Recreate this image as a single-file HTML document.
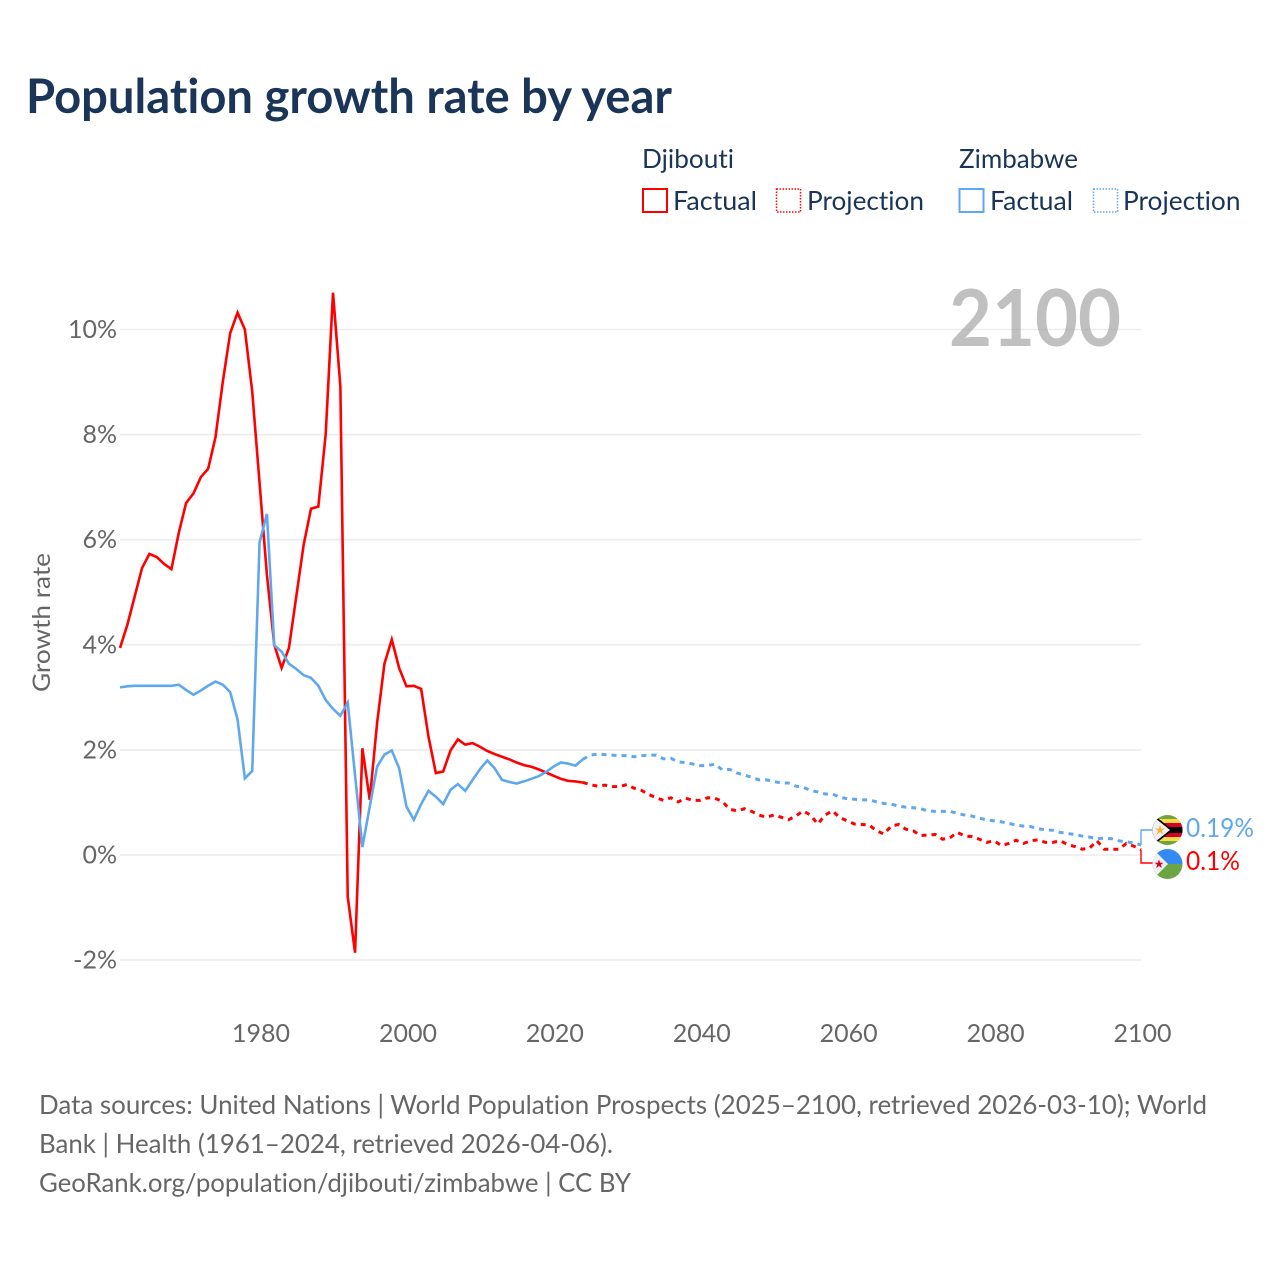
<!DOCTYPE html>
<html lang="en">
<head>
<meta charset="utf-8">
<title>Population growth rate by year</title>
<style>
html,body{margin:0;padding:0;background:#fff;width:1280px;height:1280px;overflow:hidden}
svg{display:block;font-family:"Lato","Carlito","Liberation Sans",sans-serif;font-variant-ligatures:none;font-feature-settings:"liga" 0}
</style>
</head>
<body>
<svg id="chart" width="1280" height="1280" viewBox="0 0 1280 1280" xmlns="http://www.w3.org/2000/svg">
  <defs>
    <clipPath id="clip-zw"><circle cx="1167.5" cy="830" r="15"/></clipPath>
    <clipPath id="clip-dj"><circle cx="1167.5" cy="864" r="15"/></clipPath>
  </defs>
  <rect width="1280" height="1280" fill="#fff"/>
  <text x="26" y="113" font-size="47.5" font-weight="700" fill="#1a3557" textLength="646" lengthAdjust="spacingAndGlyphs">Population growth rate by year</text>

  <g font-size="26" fill="#1a3557">
    <text x="642" y="168" textLength="92" lengthAdjust="spacingAndGlyphs">Djibouti</text>
    <text x="959" y="168" textLength="119" lengthAdjust="spacingAndGlyphs">Zimbabwe</text>
    <rect x="643" y="189" width="24" height="23" fill="none" stroke="#ff0000" stroke-width="2"/>
    <text x="673" y="210" textLength="84" lengthAdjust="spacingAndGlyphs">Factual</text>
    <rect x="776.5" y="189" width="24" height="23" fill="none" stroke="#ff0000" stroke-width="1.5" stroke-dasharray="1.5 1.5"/>
    <text x="807" y="210" textLength="117" lengthAdjust="spacingAndGlyphs">Projection</text>
    <rect x="959.5" y="189" width="24" height="23" fill="none" stroke="#5fa8ee" stroke-width="2"/>
    <text x="990" y="210" textLength="83" lengthAdjust="spacingAndGlyphs">Factual</text>
    <rect x="1093.5" y="189" width="24" height="23" fill="none" stroke="#5fa8ee" stroke-width="1.5" stroke-dasharray="1.5 1.5"/>
    <text x="1123" y="210" textLength="117.5" lengthAdjust="spacingAndGlyphs">Projection</text>
  </g>

  <g id="grid"></g>
  <text x="949" y="346" font-size="79" font-weight="700" fill="#999" fill-opacity="0.62" textLength="172" lengthAdjust="spacingAndGlyphs">2100</text>
  <g id="y-axis"></g>
  <g id="x-axis"></g>
  <text transform="translate(50,692) rotate(-90)" font-size="24" fill="#666" textLength="139" lengthAdjust="spacingAndGlyphs">Growth rate</text>
  <g id="series"></g>
  <g id="connectors"></g>

  <g clip-path="url(#clip-zw)">
    <rect x="1150" y="812" width="36" height="36" fill="#6da544"/>
    <rect x="1150" y="819" width="36" height="22" fill="#ffda44"/>
    <rect x="1150" y="823" width="36" height="14" fill="#d80027"/>
    <rect x="1150" y="827" width="36" height="6" fill="#000"/>
    <polygon points="1150,812 1173,830 1150,848" fill="#000"/>
    <polygon points="1150,814 1170,830 1150,846" fill="#f0f0f0"/>
    <polygon points="1160,825 1161.3,828.6 1165,828.6 1162,830.9 1163.1,834.5 1160,832.3 1156.9,834.5 1158,830.9 1155,828.6 1158.7,828.6" fill="#ffb03a"/>
  </g>
  <g clip-path="url(#clip-dj)">
    <rect x="1150" y="846" width="36" height="18" fill="#338af3"/>
    <rect x="1150" y="864" width="36" height="18" fill="#6da544"/>
    <polygon points="1150,846 1168,864 1150,882" fill="#f0f0f0"/>
    <polygon points="1159,859.5 1160.2,862.7 1163.5,862.7 1160.8,864.8 1161.8,868 1159,866 1156.2,868 1157.2,864.8 1154.5,862.7 1157.8,862.7" fill="#d80027"/>
  </g>
  <text x="1186" y="837" font-size="26" fill="#5fa8ee" textLength="68" lengthAdjust="spacingAndGlyphs">0.19%</text>
  <text x="1186" y="870" font-size="26" fill="#ff0000" textLength="54" lengthAdjust="spacingAndGlyphs">0.1%</text>

  <g font-size="26" fill="#666">
    <text x="39" y="1114" textLength="1168" lengthAdjust="spacingAndGlyphs">Data sources: United Nations | World Population Prospects (2025–2100, retrieved 2026-03-10); World</text>
    <text x="39" y="1153" textLength="574" lengthAdjust="spacingAndGlyphs">Bank | Health (1961–2024, retrieved 2026-04-06).</text>
    <text x="39" y="1192" textLength="592" lengthAdjust="spacingAndGlyphs">GeoRank.org/population/djibouti/zimbabwe | CC BY</text>
  </g>
</svg>
<script>
const factualStartYear = 1961;
const projectionStartYear = 2024;
const xTickYears = [1980, 2000, 2020, 2040, 2060, 2080, 2100];
const yTickValues = [-2, 0, 2, 4, 6, 8, 10];
const yTickLabels = ["-2%", "0%", "2%", "4%", "6%", "8%", "10%"];
const djiboutiFactual = [3.94,4.38,4.92,5.46,5.73,5.67,5.54,5.44,6.13,6.70,6.88,7.19,7.35,7.95,9.01,9.93,10.32,10.0,8.82,7.08,5.33,4.0,3.56,3.94,4.92,5.90,6.59,6.63,8.0,10.70,8.92,-0.79,-1.86,2.03,1.05,2.51,3.64,4.10,3.56,3.21,3.22,3.16,2.25,1.56,1.59,1.99,2.20,2.10,2.13,2.06,1.98,1.92,1.87,1.82,1.76,1.71,1.68,1.63,1.57,1.51,1.45,1.41,1.40,1.38];
const zimbabweFactual = [3.19,3.21,3.22,3.22,3.22,3.22,3.22,3.22,3.24,3.14,3.05,3.13,3.22,3.30,3.24,3.10,2.58,1.46,1.60,5.95,6.49,3.99,3.87,3.64,3.54,3.42,3.37,3.22,2.95,2.78,2.65,2.90,1.52,0.15,0.92,1.68,1.91,1.99,1.65,0.92,0.67,0.97,1.22,1.11,0.97,1.24,1.35,1.22,1.43,1.63,1.80,1.65,1.43,1.39,1.36,1.40,1.45,1.50,1.58,1.68,1.76,1.74,1.70,1.82];
const djiboutiProjection = [1.38,1.34,1.31,1.33,1.30,1.30,1.34,1.27,1.23,1.15,1.09,1.04,1.09,1.01,1.08,1.04,1.04,1.09,1.08,1.02,0.87,0.84,0.88,0.83,0.76,0.72,0.76,0.72,0.67,0.74,0.84,0.76,0.59,0.76,0.84,0.71,0.65,0.59,0.58,0.57,0.46,0.40,0.55,0.58,0.49,0.46,0.37,0.38,0.39,0.30,0.33,0.43,0.36,0.35,0.30,0.24,0.27,0.18,0.22,0.28,0.22,0.27,0.29,0.24,0.24,0.27,0.20,0.16,0.11,0.13,0.27,0.11,0.11,0.11,0.22,0.17,0.10];
const zimbabweProjection = [1.82,1.90,1.92,1.91,1.90,1.89,1.89,1.87,1.89,1.90,1.90,1.83,1.84,1.77,1.76,1.73,1.70,1.70,1.73,1.62,1.63,1.56,1.52,1.48,1.43,1.43,1.40,1.37,1.37,1.31,1.29,1.23,1.20,1.16,1.16,1.10,1.07,1.06,1.05,1.05,1.01,0.98,0.97,0.93,0.91,0.90,0.88,0.84,0.83,0.83,0.83,0.79,0.76,0.74,0.70,0.67,0.65,0.63,0.60,0.57,0.55,0.54,0.50,0.48,0.47,0.43,0.41,0.39,0.36,0.34,0.31,0.32,0.31,0.27,0.25,0.23,0.19];

const NS = "http://www.w3.org/2000/svg";
const RED = "#ff0000";
const BLUE = "#5fa8ee";
function xScale(year) { return 120 + (year - 1961) * (1021 / 139); }
function yScale(value) { return 855 - value * 52.55; }
function make(tag, attrs, parent, text) {
  const el = document.createElementNS(NS, tag);
  for (const k in attrs) el.setAttribute(k, attrs[k]);
  if (text !== undefined) el.textContent = text;
  parent.appendChild(el);
  return el;
}
function linePoints(startYear, values) {
  return values.map((v, i) => xScale(startYear + i).toFixed(2) + "," + yScale(v).toFixed(2)).join(" ");
}

const gridGroup = document.getElementById("grid");
const yAxisGroup = document.getElementById("y-axis");
yTickValues.forEach((v, i) => {
  const g = make("line", {x1: 120, x2: 1141, y1: yScale(v), y2: yScale(v), stroke: "#ececec", "stroke-width": 1.6}, gridGroup);
  
  
  const t = make("text", {x: 117, y: yScale(v) + 8.5, "text-anchor": "end", "font-size": 25, fill: "#666"}, yAxisGroup, yTickLabels[i]);
  
  
});

const xAxisGroup = document.getElementById("x-axis");
xTickYears.forEach((y) => {
  const t = make("text", {x: xScale(y) + 1.5, y: 1042, "text-anchor": "middle", "font-size": 25, fill: "#666"}, xAxisGroup, String(y));
  
  
});

const seriesGroup = document.getElementById("series");
const lineAttrs = {fill: "none", "stroke-linejoin": "miter", "stroke-width": 2.6};

const df = make("polyline", Object.assign({points: linePoints(factualStartYear, djiboutiFactual), stroke: RED}, lineAttrs), seriesGroup);



const dp = make("polyline", Object.assign({points: linePoints(projectionStartYear, djiboutiProjection), stroke: RED, "stroke-dasharray": "5 5"}, lineAttrs, {"stroke-width": 3}), seriesGroup);



const zf = make("polyline", Object.assign({points: linePoints(factualStartYear, zimbabweFactual), stroke: BLUE}, lineAttrs), seriesGroup);



const zp = make("polyline", Object.assign({points: linePoints(projectionStartYear, zimbabweProjection), stroke: BLUE, "stroke-dasharray": "5 5"}, lineAttrs, {"stroke-width": 3}), seriesGroup);



const connGroup = document.getElementById("connectors");
const endX = xScale(2100);
const zEnd = yScale(zimbabweProjection[zimbabweProjection.length - 1]);
const dEnd = yScale(djiboutiProjection[djiboutiProjection.length - 1]);
const zc = make("polyline", {points: endX + "," + zEnd + " " + endX + ",830 1156,830", fill: "none", stroke: BLUE, "stroke-width": 1.4}, connGroup);


const dc = make("polyline", {points: endX + "," + dEnd + " " + endX + ",863 1156,863", fill: "none", stroke: RED, "stroke-width": 1.4}, connGroup);


</script>
</body>
</html>
